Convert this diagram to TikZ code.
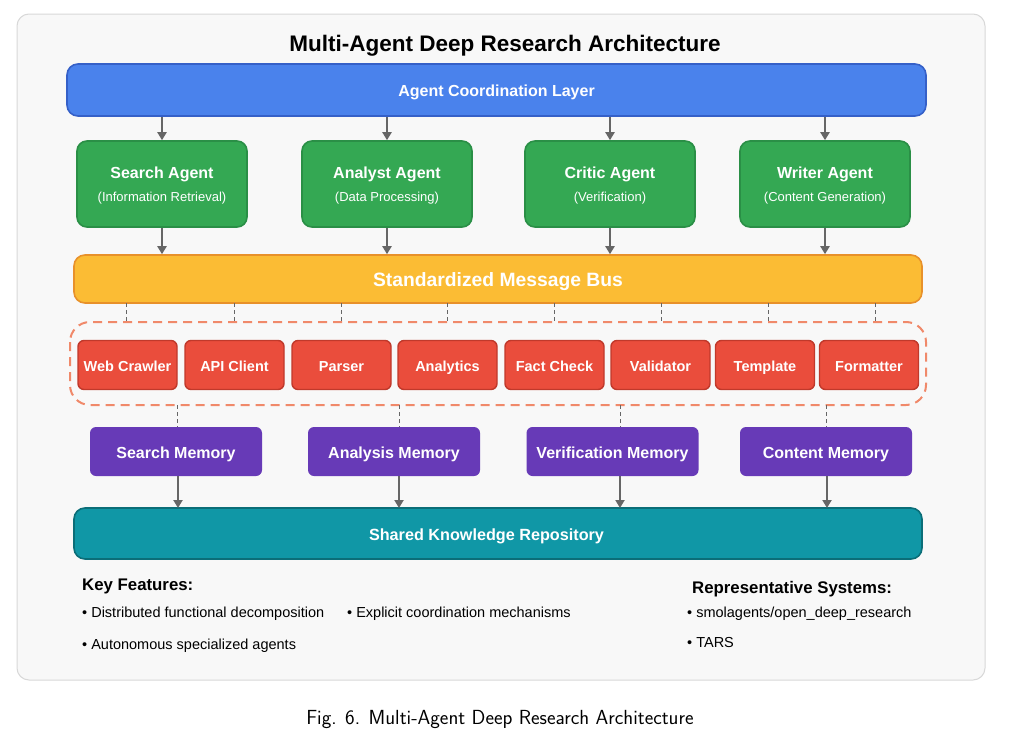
\documentclass[tikz,border=0pt]{standalone}
\usepackage{fontspec}
\setmainfont{Liberation Sans}
\usetikzlibrary{arrows.meta}
\definecolor{panelfill}{HTML}{F8F8F8}
\definecolor{panelline}{HTML}{D8D8D8}
\definecolor{bluefill}{HTML}{4A82EC}
\definecolor{blueline}{HTML}{3560C8}
\definecolor{greenfill}{HTML}{34A853}
\definecolor{greenline}{HTML}{2A8F46}
\definecolor{yellowfill}{HTML}{FBBC34}
\definecolor{yellowline}{HTML}{E8912A}
\definecolor{redfill}{HTML}{EA4D3C}
\definecolor{redline}{HTML}{C0392B}
\definecolor{dashline}{HTML}{F0896A}
\definecolor{purplefill}{HTML}{673AB7}
\definecolor{tealfill}{HTML}{1097A6}
\definecolor{tealline}{HTML}{0B6E78}
\definecolor{arrowgray}{HTML}{666666}
\tikzset{
  bar/.style={draw, line width=1.6pt, rounded corners=11pt, inner sep=0pt, text=white, font=\bfseries\fontsize{16}{18}\selectfont},
  agentbox/.style={draw=greenline, fill=greenfill, line width=1.6pt, rounded corners=10pt, minimum width=170pt, minimum height=86pt, inner sep=0pt},
  agenttitle/.style={inner sep=0pt, text=white, font=\bfseries\fontsize{16}{18}\selectfont},
  agentsub/.style={inner sep=0pt, text=white, font=\fontsize{13}{15}\selectfont},
  toolbox/.style={draw=redline, fill=redfill, line width=1.4pt, rounded corners=6pt, minimum width=99pt, minimum height=49pt, inner sep=0pt, text=white, text height=15pt, text depth=3pt, font=\bfseries\fontsize{14.5}{16}\selectfont},
  membox/.style={fill=purplefill, rounded corners=6pt, minimum width=172pt, minimum height=49pt, inner sep=0pt, text=white, text height=17pt, text depth=3.5pt, font=\bfseries\fontsize{16}{18}\selectfont},
  flow/.style={draw=arrowgray, line width=2pt, -{Triangle[width=9pt,length=8pt]}},
  tap/.style={draw=arrowgray, line width=1pt, dash pattern=on 4pt off 3pt},
  bullet/.style={anchor=west, inner sep=0pt, font=\fontsize{14.5}{16}\selectfont},
  heading/.style={anchor=west, inner sep=0pt, font=\bfseries\fontsize{16.8}{19}\selectfont},
}
\begin{document}
\begin{tikzpicture}[x=1pt,y=-1pt]
\useasboundingbox (0,0) rectangle (1012,736);
\fill[white] (0,0) rectangle (1012,736);
\draw[panelline, fill=panelfill, line width=1pt, rounded corners=12pt] (17,14) rectangle (985,680);
\node[font=\bfseries\fontsize{22.5}{25}\selectfont] (title) at (505,45.5) {Multi-Agent Deep Research Architecture};
% coordination layer
\node[bar, draw=blueline, fill=bluefill, minimum width=859pt, minimum height=52pt, text height=16pt, text depth=3.5pt] (coord) at (496.5,90) {Agent Coordination Layer};
% agents
\foreach \n/\x/\t/\s in {search/162/Search Agent/(Information Retrieval), analyst/387/Analyst Agent/(Data Processing), critic/610/Critic Agent/(Verification), writer/825/Writer Agent/(Content Generation)}{
  \node[agentbox] (\n) at (\x,184) {};
  \node[agenttitle] (\n t) at (\x,174) {\t};
  \node[agentsub] (\n s) at (\x,198.5) {\s};
  \draw[flow] (coord.south -| \n.north) -- (\n.north);
}
% message bus
\node[bar, draw=yellowline, fill=yellowfill, minimum width=848pt, minimum height=48pt, text height=18pt, text depth=4pt, font=\bfseries\fontsize{19.3}{22}\selectfont] (bus) at (498,279) {Standardized Message Bus};
\foreach \a in {search,analyst,critic,writer}{
  \draw[flow] (\a.south) -- (\a.south |- bus.north);
}
% tool group
\draw[dashline, line width=2pt, dash pattern=on 9pt off 6pt, rounded corners=20pt] (70,322) rectangle (926,405);
\node[toolbox] (t1) at (127.5,365) {Web Crawler};
\node[toolbox] (t2) at (234.5,365) {API Client};
\node[toolbox] (t3) at (341.5,365) {Parser};
\node[toolbox] (t4) at (447.5,365) {Analytics};
\node[toolbox] (t5) at (554.5,365) {Fact Check};
\node[toolbox] (t6) at (660.5,365) {Validator};
\node[toolbox] (t7) at (765,365) {Template};
\node[toolbox] (t8) at (869,365) {Formatter};
\foreach \x in {126,234,341,447,554,661,768,875}{
  \draw[tap] (\x,303) -- (\x,322);
}
% memories
\node[membox] (m1) at (176,451.5) {Search Memory};
\node[membox] (m2) at (394,451.5) {Analysis Memory};
\node[membox] (m3) at (612.5,451.5) {Verification Memory};
\node[membox] (m4) at (826,451.5) {Content Memory};
\foreach \x in {177,399,620,826}{
  \draw[tap] (\x,405) -- (\x,427);
}
% repository
\node[bar, draw=tealline, fill=tealfill, minimum width=848pt, minimum height=51pt, text height=17pt, text depth=3.5pt, font=\bfseries\fontsize{16.2}{19}\selectfont] (repo) at (498,533.5) {Shared Knowledge Repository\hspace*{23pt}\null};
\foreach \x in {178,399,620,827}{
  \draw[flow] (\x,476) -- (\x,508);
}
% notes
\node[heading] (kf) at (82,586) {Key Features:};
\node[bullet] (kf1) at (82,614) {• Distributed functional decomposition};
\node[bullet] (kf2) at (347,614) {• Explicit coordination mechanisms};
\node[bullet] (kf3) at (82,645.5) {• Autonomous specialized agents};
\node[heading] (rs) at (692,589) {Representative Systems:};
\node[bullet] (rs1) at (687,614) {• smolagents/open\_deep\_research};
\node[bullet] (rs2) at (687,643) {• TARS};
% caption
\node[inner sep=0pt] (cap) at (500,719) {\fontspec{Latin Modern Sans}\fontsize{20.4}{23}\selectfont Fig. 6. Multi-Agent Deep Research Architecture};
\end{tikzpicture}
\end{document}
